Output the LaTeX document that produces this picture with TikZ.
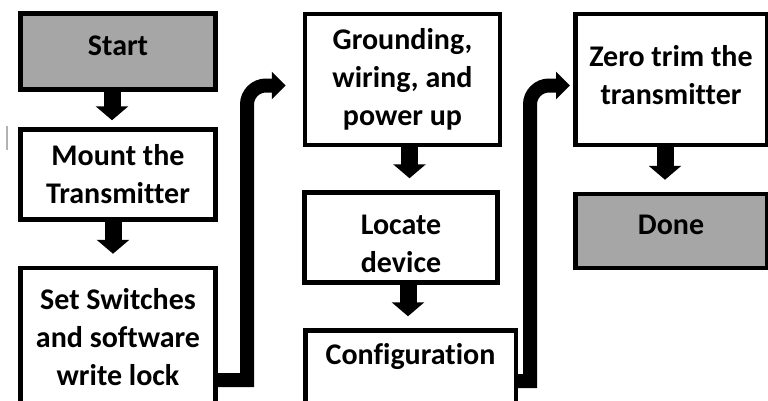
\documentclass[tikz,border=0pt]{standalone}
\usepackage{fontspec}
\setmainfont{Carlito}[Ligatures=NoCommon]
\usetikzlibrary{arrows.meta}
\definecolor{boxgray}{HTML}{A6A6A6}

\begin{document}
\begin{tikzpicture}[x=1pt,y=-1pt,
  box/.style={draw,line width=4.5pt,minimum width=195pt,inner sep=0pt,align=center,
    font=\bfseries\fontsize{30}{38}\selectfont},
  down/.style={-{Triangle[width=32pt,length=14pt]},line width=17pt,shorten >=12pt},
  elbow/.style={-{Triangle[width=27pt,length=14pt]},line width=14pt}]
\useasboundingbox (0,0) rectangle (768,400);
\clip (0,0) rectangle (768,400);
\node[box,fill=boxgray,minimum height=76pt,text depth=12pt] (start) at (118,51.5) {Start};
\node[box,minimum height=90pt] (mount) at (118,174.5) {Mount the\\Transmitter};
\node[box,minimum height=138pt] (setsw) at (118,337) {Set Switches\\and software\\write lock};
\node[box,minimum height=131pt] (ground) at (402.5,79.5) {Grounding,\\wiring, and\\power up};
\node[box,minimum width=193pt,minimum height=90pt,text height=70pt,text depth=0pt] (locate) at (401,237.5) {Locate\\device};
\node[box,minimum width=210.5pt,text height=34pt,text depth=80pt,anchor=north] (config) at (410.5,328.25) {Configuration};
\node[box,minimum width=191.5pt,minimum height=131pt,text depth=10pt] (zero) at (671,79.5) {Zero trim the\\transmitter};
\node[box,fill=boxgray,minimum width=191.5pt,minimum height=74pt,text depth=12pt] (done) at (671,231) {Done};
\draw[down,shorten >=7pt] ([xshift=-6pt]start.south) -- ([xshift=-6pt]start.south |- mount.north);
\draw[down] ([xshift=-5pt]mount.south) -- ([xshift=-5pt]mount.south |- setsw.north);
\draw[down] ([xshift=7pt]ground.south) -- ([xshift=7pt]ground.south |- locate.north);
\draw[down] ([xshift=7pt]locate.south) -- ([xshift=7pt]locate.south |- config.north);
\draw[down] ([xshift=-6pt]zero.south) -- ([xshift=-6pt]zero.south |- done.north);
\coordinate (c1) at (247,380);
\coordinate (c2) at (247,85.5);
\coordinate (c3) at (530,381);
\coordinate (c4) at (530,85.5);
\draw[elbow,shorten >=17pt] (setsw.east |- c1) -- (c1) [rounded corners=19pt] -- (c2) -- (ground.west |- c2);
\draw[elbow,shorten >=3pt] (config.east |- c3) -- (c3) [rounded corners=19pt] -- (c4) -- (zero.west |- c4);
\draw[gray!60,line width=1.3pt] (7,126) -- (7,150);
\end{tikzpicture}
\end{document}
